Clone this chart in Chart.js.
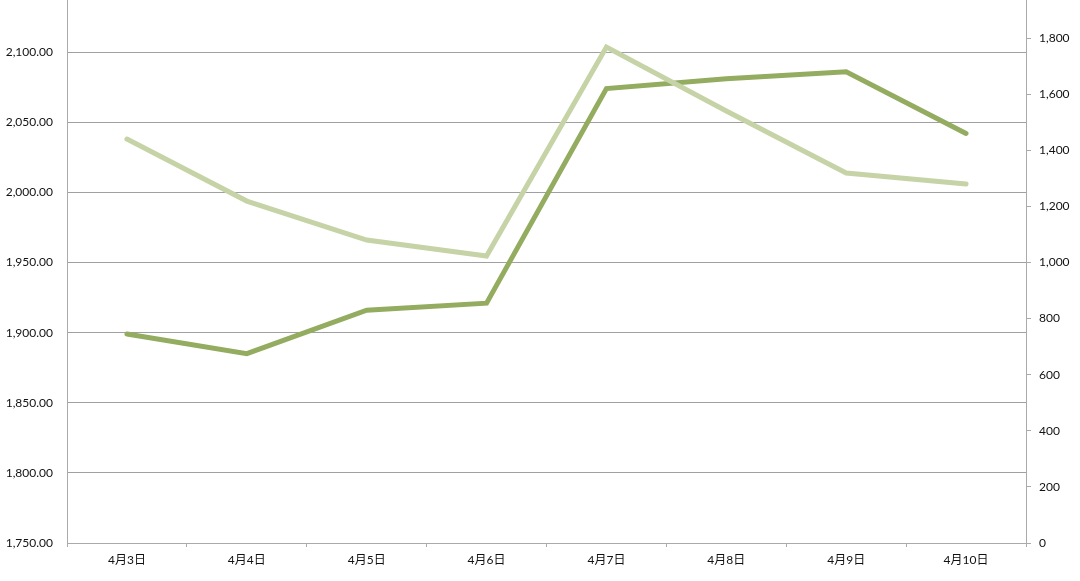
<!DOCTYPE html>
<html>
<head>
<meta charset="utf-8">
<script src="https://cdn.jsdelivr.net/npm/chart.js@4/dist/chart.umd.min.js"></script>
<style>
    html, body { margin: 0; padding: 0; background: #fff; overflow: hidden; }
    #wrap { position: absolute; left: 0; top: -18px; width: 1080px; height: 599px; }
</style>
</head>
<body>
<div id="wrap"><canvas id="chart" width="1080" height="599"></canvas></div>
<script>
// Data
const categories = ['4月3日', '4月4日', '4月5日', '4月6日', '4月7日', '4月8日', '4月9日', '4月10日'];
const primaryValues = [1899, 1885, 1916, 1921, 2074, 2081, 2086, 2042];   // left axis, dark line
const secondaryValues = [1440, 1219, 1080, 1023, 1768, 1540, 1319, 1280]; // right axis, light line

const axisColor = '#aaaaaa';
const gridColor = '#a0a0a0';
const font = { family: 'Lato, "Noto Sans CJK JP", sans-serif', size: 12 };

// fix axis sizes so the plot area lines up with the picture
function fixWidth(w) {
    return function (scale) {
        scale.width = w;
        scale.paddingTop = 0;
        scale.paddingBottom = 0;
    };
}

new Chart(document.getElementById('chart'), {
    type: 'line',
    data: {
        labels: categories,
        datasets: [
            {
                label: 'secondary',
                data: secondaryValues,
                borderColor: '#c6d3a6',
                borderWidth: 5,
                borderCapStyle: 'round',
                pointRadius: 0,
                tension: 0,
                yAxisID: 'y1',
                order: 0
            },
            {
                label: 'primary',
                data: primaryValues,
                borderColor: '#93ac60',
                borderWidth: 5,
                borderCapStyle: 'round',
                pointRadius: 0,
                tension: 0,
                yAxisID: 'y',
                order: 1
            }
        ]
    },
    options: {
        responsive: false,
        animation: false,
        layout: { padding: 0 },
        plugins: {
            legend: { display: false },
            tooltip: { enabled: false }
        },
        scales: {
            x: {
                offset: true,
                grid: {
                    offset: true,
                    drawOnChartArea: false,
                    drawTicks: true,
                    tickLength: 4,
                    color: axisColor
                },
                border: { color: axisColor, width: 1 },
                ticks: { color: '#111', font: font, padding: 6, maxRotation: 0 },
                afterFit: function (scale) {
                    scale.height = 38;
                    scale.paddingLeft = 0;
                    scale.paddingRight = 0;
                }
            },
            y: {
                position: 'left',
                min: 1750,
                max: 2150,
                ticks: {
                    stepSize: 50,
                    color: '#111',
                    font: font,
                    padding: 14,
                    callback: v => v.toLocaleString('en-US', { minimumFractionDigits: 2, maximumFractionDigits: 2 })
                },
                grid: { color: gridColor, drawTicks: false, lineWidth: 1 },
                border: { color: axisColor, width: 1 },
                afterFit: fixWidth(67)
            },
            y1: {
                position: 'right',
                min: 0,
                max: 2000,
                ticks: {
                    stepSize: 200,
                    color: '#111',
                    font: font,
                    padding: 8,
                    callback: v => v.toLocaleString('en-US')
                },
                grid: { drawOnChartArea: false, drawTicks: true, tickLength: 5, color: axisColor },
                border: { color: axisColor, width: 1 },
                afterFit: fixWidth(54)
            }
        }
    }
});
</script>
</body>
</html>
